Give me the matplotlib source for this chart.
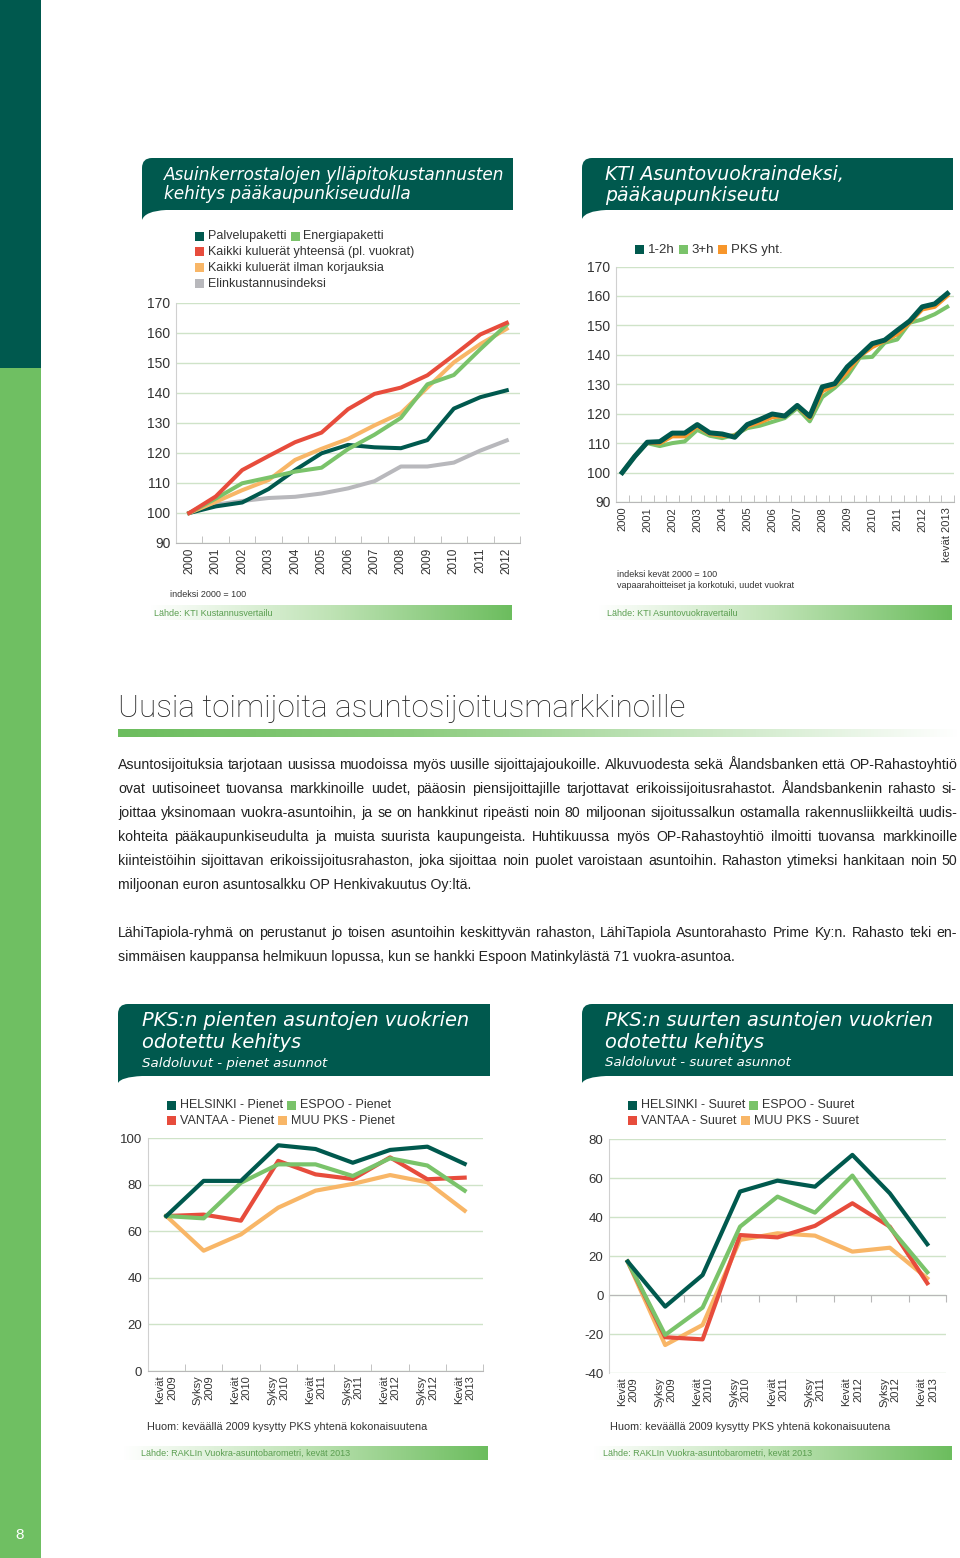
import numpy as np
import matplotlib
matplotlib.use('Agg')
import matplotlib.pyplot as plt
from matplotlib.path import Path
from matplotlib.patches import PathPatch, Rectangle
from matplotlib.colors import LinearSegmentedColormap
from matplotlib import font_manager

# --- Asuinkerrostalojen ylläpitokustannukset, indeksi 2000 = 100 ---
years = [str(y) for y in range(2000, 2013)]
palvelupaketti = [100, 102.2, 103.5, 108.0, 114.3, 119.9, 122.7, 121.9, 121.6, 124.3, 134.8, 138.6, 140.9]
energiapaketti = [100, 104.8, 109.9, 111.8, 113.8, 115.1, 121.3, 126.1, 131.7, 142.9, 146.0, 154.6, 162.8]
kaikki_kuluerat = [100, 105.5, 114.3, 119.0, 123.6, 126.8, 134.6, 139.7, 141.8, 145.9, 152.6, 159.5, 163.4]
ilman_korjauksia = [100, 103.7, 107.6, 111.0, 117.7, 121.4, 124.7, 129.2, 133.3, 141.8, 150.2, 156.3, 161.4]
elinkustannus = [100, 102.8, 104.0, 105.0, 105.4, 106.5, 108.2, 110.6, 115.5, 115.5, 116.8, 120.8, 124.2]

# --- KTI Asuntovuokraindeksi, puolivuosittain kevät 2000 - kevät 2013 ---
kti_labels = [str(y) for y in range(2000, 2013)] + ['kevät 2013']
kti_12h = [100, 105.5, 110.3, 110.5, 113.4, 113.4, 116.3, 113.5, 113.1, 112.0, 116.3, 118.0, 119.9, 119.2,
           122.8, 119.1, 129.1, 130.2, 135.9, 139.8, 143.8, 145.0, 148.3, 151.5, 156.3, 157.3, 160.8]
kti_3h = [100, 105.5, 110.0, 109.0, 110.0, 110.6, 114.5, 112.5, 111.7, 112.8, 115.1, 115.9, 117.2, 118.5,
          121.9, 117.4, 125.6, 128.8, 132.7, 139.0, 139.3, 144.1, 145.2, 150.9, 152.0, 153.8, 156.3]
kti_pks = [100, 105.5, 110.2, 109.9, 112.3, 112.3, 115.7, 113.1, 112.4, 112.5, 115.7, 117.0, 118.8, 119.2,
           122.5, 118.5, 127.6, 129.7, 134.2, 139.5, 142.6, 144.7, 147.0, 150.9, 155.4, 156.3, 160.0]

# --- RAKLI vuokra-asuntobarometri, saldoluvut ---
kaudet = ['Kevät\n2009', 'Syksy\n2009', 'Kevät\n2010', 'Syksy\n2010', 'Kevät\n2011',
          'Syksy\n2011', 'Kevät\n2012', 'Syksy\n2012', 'Kevät\n2013']
helsinki_pienet = [66.6, 81.7, 81.7, 97.0, 95.4, 89.5, 95.0, 96.4, 89.0]
espoo_pienet = [66.6, 65.6, 80.9, 88.8, 88.8, 83.8, 91.4, 88.3, 77.5]
vantaa_pienet = [66.6, 67.2, 64.6, 90.3, 84.5, 82.5, 91.8, 82.4, 83.1]
muu_pienet = [66.6, 51.7, 58.7, 70.2, 77.5, 80.4, 84.2, 81.1, 68.9]

helsinki_suuret = [17.3, -5.8, 10.4, 53.2, 58.8, 55.7, 72.0, 52.3, 26.2]
espoo_suuret = [17.3, -20.3, -6.3, 35.2, 50.6, 42.4, 61.4, 34.7, 11.8]
vantaa_suuret = [17.3, -21.5, -22.6, 30.9, 29.7, 35.6, 47.2, 35.2, 6.2]
muu_suuret = [17.3, -25.5, -15.2, 28.4, 31.8, 30.6, 22.4, 24.4, 8.7]

TEAL = '#00594e'
GREEN = '#7ac36a'
RED = '#e74c3c'
ORANGE = '#f8b667'
ORANGE2 = '#f7962b'
GREY = '#b8b8bc'
GRID = '#cfe3c8'
LEAF = '#6cbd5e'
SRC_TXT = '#5a9e50'
INK = '#333333'

names = {f.name for f in font_manager.fontManager.ttflist}
SANS = 'Liberation Sans'
NARROW = 'Liberation Sans Narrow' if 'Liberation Sans Narrow' in names else SANS
TITLEF = 'DejaVu Sans'
plt.rcParams['font.family'] = SANS
plt.rcParams['axes.unicode_minus'] = False

W, H = 960, 1558
fig = plt.figure(figsize=(W / 100, H / 100), dpi=100)
bg = fig.add_axes([0, 0, 1, 1])
bg.set_xlim(0, W)
bg.set_ylim(H, 0)
bg.axis('off')
bg.set_autoscale_on(False)
renderer = fig.canvas.get_renderer()


def width_of(t):
    return t.get_window_extent(renderer).width


def fit(x, y, s, width, **kw):
    t = bg.text(x, y, s, fontsize=10, **kw)
    t.set_fontsize(10 * width / width_of(t))
    return t


# page stripe
bg.add_patch(Rectangle((0, 0), 41, 368, color=TEAL, lw=0))
bg.add_patch(Rectangle((0, 368), 41, H - 368, color='#6fbf62', lw=0))
bg.text(20, 1535, '8', color='white', fontsize=11, ha='center', va='center')


def title_box(x0, y0, x1, y1, tail, lines, first_w, tx, sub=None, sub_w=None):
    r = 10
    verts = [(x0 + r, y0), (x1, y0), (x1, y1), (x0 + 24, y1), (x0 + 3, y1 + 1), (x0, y1 + tail),
             (x0, y0 + r), (x0, y0), (x0 + r, y0), (x0 + r, y0)]
    codes = [Path.MOVETO, Path.LINETO, Path.LINETO, Path.LINETO, Path.CURVE3, Path.CURVE3,
             Path.LINETO, Path.CURVE3, Path.CURVE3, Path.CLOSEPOLY]
    bg.add_patch(PathPatch(Path(verts, codes), fc=TEAL, ec='none'))
    size = None
    for s, y in lines:
        if size is None:
            t = fit(tx, y, s, first_w, color='white', style='italic', family=TITLEF, va='center')
            size = t.get_fontsize()
        else:
            bg.text(tx, y, s, fontsize=size, color='white', style='italic', family=TITLEF, va='center')
    if sub:
        fit(tx, sub[1], sub[0], sub_w, color='white', style='italic', family=TITLEF, va='center')


src_cmap = LinearSegmentedColormap.from_list('src', ['#ffffff', '#bfe3b5', LEAF])


def source_bar(x0, x1, y0, y1, text, tx):
    grad = np.linspace(0, 1, 256)[None, :]
    bg.imshow(grad, cmap=src_cmap, extent=(x0, x1, y1, y0), aspect='auto', zorder=1)
    bg.text(tx, (y0 + y1) / 2 + 0.5, text, fontsize=6.5, color=SRC_TXT, va='center', zorder=2)


def legend_row(x, y, items, fs=9):
    for label, color in items:
        bg.add_patch(Rectangle((x, y - 4.5), 9, 9, color=color, lw=0))
        t = bg.text(x + 13, y, label, fontsize=fs, va='center', color=INK)
        x = x + 13 + width_of(t) + 4


def chart_axes(l, t, r, b):
    ax = fig.add_axes([l / W, 1 - b / H, (r - l) / W, (b - t) / H])
    ax.set_facecolor('none')
    for s in ('top', 'right'):
        ax.spines[s].set_visible(False)
    ax.spines['left'].set_color('#d0d0d0')
    ax.spines['bottom'].set_color('#b8b8b8')
    ax.grid(axis='y', color=GRID, lw=1)
    ax.set_axisbelow(True)
    ax.tick_params(axis='y', length=0, pad=4, labelcolor=INK)
    ax.tick_params(axis='x', which='major', length=0, labelcolor=INK)
    ax.tick_params(axis='x', which='minor', direction='in', length=5, color='#b8b8b8')
    return ax


def categories(ax, n, labels, positions, size, pad):
    ax.set_xlim(-0.5, n - 0.5)
    ax.set_xticks(positions)
    ax.set_xticklabels(labels, rotation=90, fontsize=size, multialignment='right')
    ax.set_xticks(np.arange(n + 1) - 0.5, minor=True)
    ax.tick_params(axis='x', which='major', pad=pad)


# ---------------- chart 1 ----------------
title_box(142, 158, 513, 210, 10,
          [('Asuinkerrostalojen ylläpitokustannusten', 175), ('kehitys pääkaupunkiseudulla', 193.5)],
          339, 164)
legend_row(195, 236, [('Palvelupaketti', TEAL), ('Energiapaketti', GREEN)])
legend_row(195, 251.5, [('Kaikki kuluerät yhteensä (pl. vuokrat)', RED)])
legend_row(195, 267.5, [('Kaikki kuluerät ilman korjauksia', ORANGE)])
legend_row(195, 283.5, [('Elinkustannusindeksi', GREY)])

ax1 = chart_axes(176, 303, 520, 543)
x1 = np.arange(len(years))
ax1.plot(x1, elinkustannus, color=GREY, lw=2.9)
ax1.plot(x1, palvelupaketti, color=TEAL, lw=2.9)
ax1.plot(x1, ilman_korjauksia, color=ORANGE, lw=2.9)
ax1.plot(x1, energiapaketti, color=GREEN, lw=2.9)
ax1.plot(x1, kaikki_kuluerat, color=RED, lw=2.9)
ax1.set_ylim(90, 170)
ax1.set_yticks(range(90, 171, 10))
ax1.tick_params(axis='y', labelsize=10)
categories(ax1, len(years), years, x1, 8.5, 3.5)
bg.text(170, 594, 'indeksi 2000 = 100', fontsize=6.5, va='center', color=INK)
source_bar(150, 512, 605, 620, 'Lähde: KTI Kustannusvertailu', 154)

# ---------------- chart 2 ----------------
title_box(582, 158, 953, 210, 9,
          [('KTI Asuntovuokraindeksi,', 174), ('pääkaupunkiseutu', 195.5)], 238, 605)
legend_row(635, 249.5, [('1-2h', TEAL), ('3+h', GREEN), ('PKS yht.', ORANGE2)], fs=9.5)

ax2 = chart_axes(616, 266.5, 953.5, 502)
x2 = np.arange(len(kti_12h))
ax2.plot(x2, kti_3h, color=GREEN, lw=2.9)
ax2.plot(x2, kti_pks, color=ORANGE2, lw=2.9)
ax2.plot(x2, kti_12h, color=TEAL, lw=3.6)
ax2.set_ylim(90, 170)
ax2.set_yticks(range(90, 171, 10))
ax2.tick_params(axis='y', labelsize=10)
categories(ax2, len(kti_12h), kti_labels, x2[::2], 8, 3.5)
bg.text(617, 574, 'indeksi kevät 2000 = 100', fontsize=6.5, va='center', color=INK)
bg.text(617, 585, 'vapaarahoitteiset ja korkotuki, uudet vuokrat', fontsize=6.5, va='center', color=INK)
source_bar(598, 952, 605, 620, 'Lähde: KTI Asuntovuokravertailu', 607)

# ---------------- article text ----------------
fit(118, 708, 'Uusia toimijoita asuntosijoitusmarkkinoille', 567,
    family='Roboto', weight='light', va='center', color='#222222')
head_cmap = LinearSegmentedColormap.from_list('head', [(0, LEAF), (0.35, '#8ccc7e'), (1, '#ffffff')])
bg.imshow(np.linspace(0, 1, 256)[None, :], cmap=head_cmap, extent=(118, 960, 737, 729),
          aspect='auto', zorder=1)

para1 = ['Asuntosijoituksia tarjotaan uusissa muodoissa myös uusille sijoittajajoukoille. Alkuvuodesta sekä Ålandsbanken että OP-Rahastoyhtiö',
         'ovat uutisoineet tuovansa markkinoille uudet, pääosin piensijoittajille tarjottavat erikoissijoitusrahastot. Ålandsbankenin rahasto si-',
         'joittaa yksinomaan vuokra-asuntoihin, ja se on hankkinut ripeästi noin 80 miljoonan sijoitussalkun ostamalla rakennusliikkeiltä uudis-',
         'kohteita pääkaupunkiseudulta ja muista suurista kaupungeista. Huhtikuussa myös OP-Rahastoyhtiö ilmoitti tuovansa markkinoille',
         'kiinteistöihin sijoittavan erikoissijoitusrahaston, joka sijoittaa noin puolet varoistaan asuntoihin. Rahaston ytimeksi hankitaan noin 50',
         'miljoonan euron asuntosalkku OP Henkivakuutus Oy:ltä.']
para2 = ['LähiTapiola-ryhmä on perustanut jo toisen asuntoihin keskittyvän rahaston, LähiTapiola Asuntorahasto Prime Ky:n. Rahasto teki en-',
         'simmäisen kauppansa helmikuun lopussa, kun se hankki Espoon Matinkylästä 71 vuokra-asuntoa.']

probe = bg.text(0, -100, para1[0], fontsize=10, family=NARROW)
body_fs = 10 * 833 / width_of(probe)
probe.remove()
X0, X1 = 118, 957


def body_line(s, y, justify):
    if not justify:
        bg.text(X0, y, s, fontsize=body_fs, family=NARROW, va='baseline', color='#222222')
        return
    words = s.split()
    texts = [bg.text(0, y, w, fontsize=body_fs, family=NARROW, va='baseline', color='#222222') for w in words]
    widths = [width_of(t) for t in texts]
    gap = (X1 - X0 - sum(widths)) / (len(words) - 1)
    x = X0
    for t, w in zip(texts, widths):
        t.set_x(x)
        x += w + gap


for i, s in enumerate(para1):
    body_line(s, 769 + 24 * i, i < len(para1) - 1)
for i, s in enumerate(para2):
    body_line(s, 937 + 24 * i, i < len(para2) - 1)

# ---------------- chart 3 ----------------
title_box(118, 1004, 490, 1076, 7,
          [('PKS:n pienten asuntojen vuokrien', 1021), ('odotettu kehitys', 1043)], 326, 142,
          sub=('Saldoluvut - pienet asunnot', 1063), sub_w=185)
legend_row(167, 1105, [('HELSINKI - Pienet', TEAL), ('ESPOO - Pienet', GREEN)])
legend_row(167, 1120.7, [('VANTAA - Pienet', RED), ('MUU PKS - Pienet', ORANGE)])

ax3 = chart_axes(147.7, 1138.3, 483.3, 1371)
x3 = np.arange(len(kaudet))
ax3.plot(x3, muu_pienet, color=ORANGE, lw=3)
ax3.plot(x3, vantaa_pienet, color=RED, lw=3)
ax3.plot(x3, espoo_pienet, color=GREEN, lw=3)
ax3.plot(x3, helsinki_pienet, color=TEAL, lw=3)
ax3.set_ylim(0, 100)
ax3.set_yticks(range(0, 101, 20))
ax3.tick_params(axis='y', labelsize=9.5)
categories(ax3, len(kaudet), kaudet, x3, 8, 3)
bg.text(147, 1427, 'Huom: keväällä 2009 kysytty PKS yhtenä kokonaisuutena', fontsize=7.8, va='center', color=INK)
source_bar(123, 488, 1446, 1460, 'Lähde: RAKLIn Vuokra-asuntobarometri, kevät 2013', 141)

# ---------------- chart 4 ----------------
title_box(582, 1004, 953, 1076, 7,
          [('PKS:n suurten asuntojen vuokrien', 1021), ('odotettu kehitys', 1043)], 327, 605,
          sub=('Saldoluvut - suuret asunnot', 1063), sub_w=186)
legend_row(628, 1105, [('HELSINKI - Suuret', TEAL), ('ESPOO - Suuret', GREEN)])
legend_row(628, 1120.7, [('VANTAA - Suuret', RED), ('MUU PKS - Suuret', ORANGE)])

ax4 = chart_axes(609, 1139.3, 946, 1373.3)
x4 = np.arange(len(kaudet))
ax4.plot(x4, muu_suuret, color=ORANGE, lw=3)
ax4.plot(x4, vantaa_suuret, color=RED, lw=3)
ax4.plot(x4, espoo_suuret, color=GREEN, lw=3)
ax4.plot(x4, helsinki_suuret, color=TEAL, lw=3)
ax4.set_ylim(-40, 80)
ax4.set_yticks(range(-40, 81, 20))
ax4.tick_params(axis='y', labelsize=9.5)
categories(ax4, len(kaudet), kaudet, x4, 8, 3)
ax4.spines['bottom'].set_visible(False)
ax4.tick_params(axis='x', which='minor', length=0)
zero = ax4.secondary_xaxis(40 / 120)
zero.set_xticks(np.arange(len(kaudet) + 1) - 0.5)
zero.tick_params(length=5, color='#b8b8b8', labeltop=False, labelbottom=False)
for sp in zero.spines.values():
    sp.set_color('#b8b8b8')
zero.set_zorder(0.5)
bg.text(610, 1427, 'Huom: keväällä 2009 kysytty PKS yhtenä kokonaisuutena', fontsize=7.8, va='center', color=INK)
source_bar(593, 952, 1446, 1460, 'Lähde: RAKLIn Vuokra-asuntobarometri, kevät 2013', 603)

fig.savefig('out.png', dpi=100)
